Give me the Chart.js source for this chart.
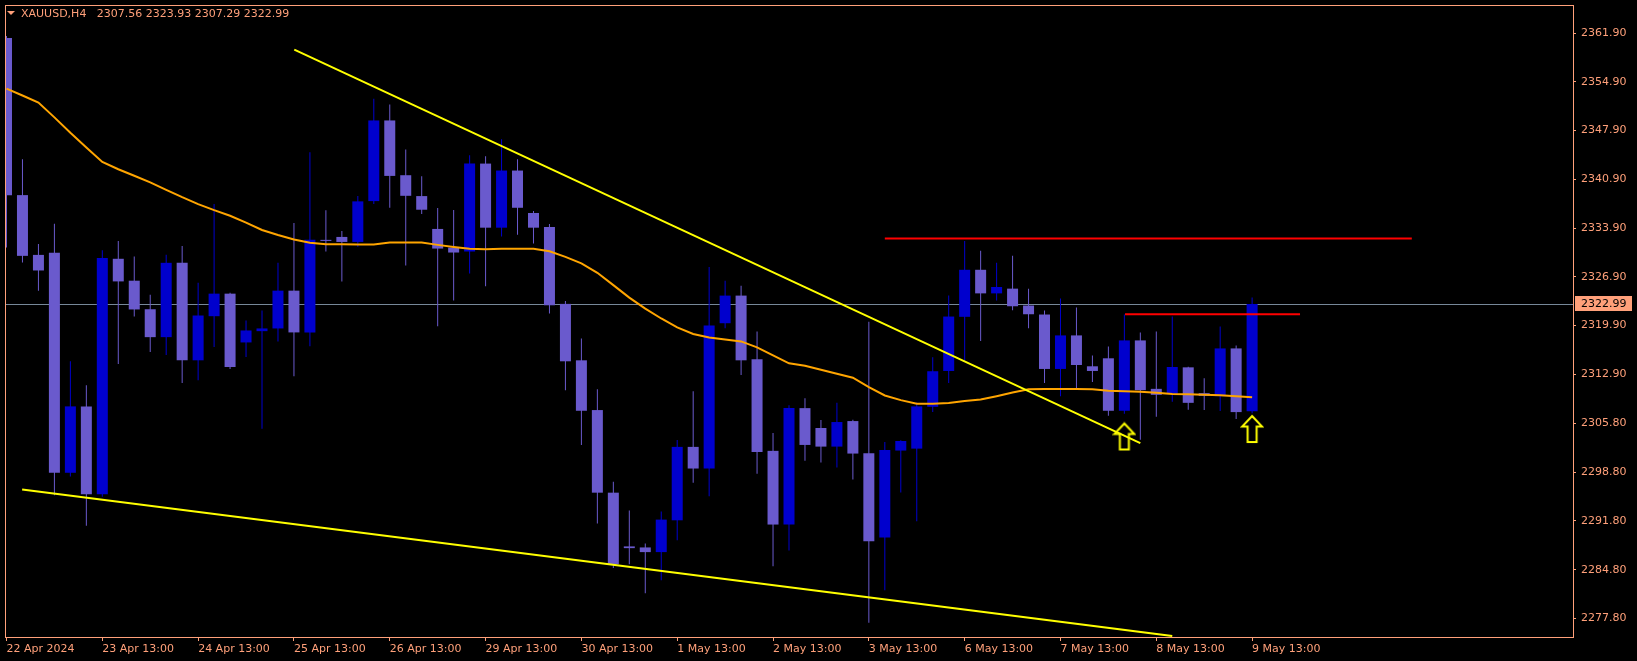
<!DOCTYPE html>
<html>
<head>
<meta charset="utf-8">
<title>XAUUSD H4</title>
<script src="https://cdn.jsdelivr.net/npm/chart.js@4.4.1/dist/chart.umd.min.js"></script>
<style>
  html, body { margin: 0; padding: 0; background: #000; }
  #wrap { position: relative; width: 1637px; height: 661px; overflow: hidden; }
  #chart { display: block; }
  #tri {
    position: absolute; left: 7px; top: 11px; width: 0; height: 0;
    border-left: 4px solid transparent; border-right: 4px solid transparent;
    border-top: 4px solid #FFA07A;
  }
  #title {
    position: absolute; left: 21px; top: 7px; line-height: 13px;
    font-family: "DejaVu Sans", sans-serif; font-size: 11px;
    color: #FFA07A; white-space: pre;
  }
</style>
</head>
<body>
<div id="wrap">
  <canvas id="chart" width="1637" height="661"></canvas>
  <div id="tri"></div>
  <div id="title">XAUUSD,H4   2307.56 2323.93 2307.29 2322.99</div>
</div>
<script>
// candles (H4)
var candleOpen = [2361.2, 2338.63, 2330.04, 2330.33, 2298.73, 2308.27, 2295.63, 2329.48, 2326.33, 2322.23,
  2318.22, 2328.9, 2314.89, 2321.23, 2324.47, 2317.46, 2319.08, 2319.47, 2324.9, 2318.9,
  2332.2, 2332.62, 2331.9, 2337.77, 2349.36, 2341.49, 2338.49, 2333.77, 2331.09, 2330.52,
  2343.16, 2333.95, 2342.16, 2336.06, 2334.05, 2323.0, 2314.89, 2307.74, 2295.87, 2288.15,
  2288.0, 2287.33, 2291.9, 2302.45, 2299.34, 2320.22, 2324.19, 2315.03, 2301.88, 2291.29,
  2308.02, 2305.16, 2302.49, 2306.16, 2301.55, 2289.43, 2301.92, 2302.2, 2308.21, 2313.36,
  2321.14, 2327.9, 2324.51, 2325.19, 2322.76, 2321.47, 2313.65, 2318.47, 2314.03, 2315.18,
  2307.64, 2317.75, 2310.79, 2310.07, 2313.88, 2310.17, 2309.74, 2316.6, 2307.56];
var candleHigh = [2361.5, 2343.8, 2331.6, 2334.5, 2314.75, 2311.3, 2330.7, 2332.05, 2329.8, 2324.3,
  2330.05, 2331.3, 2326.04, 2337.34, 2324.6, 2320.6, 2322.04, 2328.9, 2334.63, 2344.78,
  2336.44, 2333.48, 2338.5, 2352.46, 2351.65, 2345.2, 2341.35, 2336.77, 2336.49, 2344.35,
  2344.2, 2346.64, 2343.78, 2336.34, 2334.48, 2323.43, 2318.04, 2310.74, 2297.44, 2293.3,
  2288.57, 2293.15, 2303.45, 2310.46, 2328.3, 2326.33, 2325.62, 2319.04, 2304.45, 2308.45,
  2309.45, 2306.3, 2308.79, 2306.35, 2320.42, 2303.16, 2303.4, 2308.84, 2315.32, 2324.19,
  2332.05, 2330.62, 2328.9, 2329.9, 2325.19, 2322.04, 2323.76, 2322.47, 2315.6, 2316.89,
  2321.47, 2318.9, 2319.04, 2321.18, 2313.95, 2312.3, 2319.75, 2317.03, 2323.93];
var candleLow = [2331.1, 2328.95, 2324.9, 2295.5, 2298.2, 2291.1, 2295.3, 2314.36, 2321.2, 2316.08,
  2315.65, 2311.64, 2312.03, 2316.79, 2313.65, 2315.36, 2305.06, 2317.6, 2312.6, 2316.9,
  2330.52, 2326.23, 2331.2, 2337.34, 2336.81, 2328.52, 2335.91, 2319.8, 2323.5, 2327.38,
  2325.52, 2332.67, 2332.95, 2331.67, 2321.61, 2310.6, 2302.73, 2291.43, 2285.04, 2285.57,
  2281.43, 2283.28, 2289.04, 2297.3, 2295.34, 2319.51, 2312.79, 2298.59, 2285.29, 2287.57,
  2300.45, 2300.2, 2299.49, 2297.77, 2277.17, 2281.85, 2295.91, 2291.76, 2307.45, 2311.64,
  2314.7, 2317.65, 2323.47, 2322.08, 2319.51, 2311.64, 2309.74, 2310.88, 2311.79, 2306.92,
  2307.21, 2303.49, 2306.78, 2308.93, 2307.78, 2307.74, 2307.6, 2306.45, 2307.29];
var candleClose = [2338.6, 2329.9, 2327.8, 2298.73, 2308.27, 2295.63, 2329.6, 2326.23, 2322.2, 2318.22,
  2328.9, 2314.89, 2321.33, 2324.47, 2313.93, 2319.18, 2319.47, 2324.9, 2318.9, 2332.2,
  2332.05, 2331.9, 2337.73, 2349.36, 2341.39, 2338.53, 2336.53, 2330.95, 2330.38, 2343.16,
  2333.95, 2342.16, 2336.81, 2333.95, 2322.8, 2314.75, 2307.64, 2295.87, 2285.57, 2287.9,
  2287.33, 2292.0, 2302.45, 2299.34, 2319.9, 2324.19, 2314.89, 2301.73, 2291.29, 2308.02,
  2302.73, 2302.49, 2306.02, 2301.49, 2288.9, 2302.02, 2303.3, 2308.27, 2313.32, 2321.18,
  2327.9, 2324.51, 2325.43, 2322.66, 2321.51, 2313.65, 2318.47, 2314.22, 2313.36, 2307.64,
  2317.75, 2310.6, 2309.93, 2313.93, 2308.78, 2309.78, 2316.6, 2307.45, 2322.99];

// moving average, one value per candle
var maValues = [2353.93, 2352.95, 2351.93, 2349.80, 2347.58, 2345.48, 2343.39, 2342.35, 2341.42, 2340.46,
  2339.39, 2338.33, 2337.34, 2336.47, 2335.66, 2334.68, 2333.62, 2332.90, 2332.25, 2331.78,
  2331.57, 2331.56, 2331.54, 2331.54, 2331.81, 2331.81, 2331.81, 2331.48, 2331.19, 2330.91,
  2330.86, 2330.91, 2330.91, 2330.91, 2330.55, 2329.76, 2328.83, 2327.47, 2325.69, 2323.90,
  2322.33, 2320.90, 2319.61, 2318.68, 2318.18, 2317.89, 2317.61, 2316.75, 2315.60, 2314.46,
  2314.10, 2313.53, 2312.96, 2312.39, 2311.03, 2309.84, 2309.17, 2308.64, 2308.64, 2308.74,
  2309.03, 2309.25, 2309.74, 2310.27, 2310.74, 2310.78, 2310.78, 2310.78, 2310.74, 2310.53,
  2310.43, 2310.37, 2310.24, 2310.05, 2310.00, 2309.93, 2309.88, 2309.74, 2309.60];

// x axis: tick at every 6th candle
var xTickIndex = [0, 6, 12, 18, 24, 30, 36, 42, 48, 54, 60, 66, 72, 78];
var xTickLabels = ['22 Apr 2024', '23 Apr 13:00', '24 Apr 13:00', '25 Apr 13:00', '26 Apr 13:00',
  '29 Apr 13:00', '30 Apr 13:00', '1 May 13:00', '2 May 13:00', '3 May 13:00',
  '6 May 13:00', '7 May 13:00', '8 May 13:00', '9 May 13:00'];
var yTickValues = [2361.90, 2354.90, 2347.90, 2340.90, 2333.90, 2326.90, 2319.90,
  2312.90, 2305.80, 2298.80, 2291.80, 2284.80, 2277.80];

// drawn objects: [candle index, price]
var upperTrend = [[18.02, 2359.55], [71.0, 2302.98]];
var lowerTrend = [[0.98, 2296.34], [73.0, 2275.27]];
var resistTop = [[55.0, 2332.38], [88.0, 2332.38]];
var resistLow = [[70.04, 2321.5], [81.0, 2321.5]];
var arrowIndex = [70, 78];
var arrowPrice = [2303.95, 2305.02];
var bidPrice = 2322.99;

var fg = '#FFA07A';
var bull = '#0000CD';
var bear = '#6A5ACD';

function candleColor(ctx) {
  var i = ctx.dataIndex;
  return candleClose[i] >= candleOpen[i] ? bull : bear;
}
function toPoints(pairs) {
  return pairs.map(function (p) { return { x: p[0], y: p[1] }; });
}

// up arrow used as point image
var arrowImg = document.createElement('canvas');
arrowImg.width = 24; arrowImg.height = 30;
(function () {
  var c = arrowImg.getContext('2d');
  c.beginPath();
  c.moveTo(12, 2); c.lineTo(22, 12.5); c.lineTo(16.5, 12.5); c.lineTo(16.5, 28);
  c.lineTo(7.5, 28); c.lineTo(7.5, 12.5); c.lineTo(2, 12.5); c.closePath();
  c.lineJoin = 'miter';
  c.strokeStyle = '#FFFF00';
  c.lineWidth = 2;
  c.stroke();
})();

// frame, bid line and the bid price label
var framePlugin = {
  id: 'frame',
  beforeDatasetsDraw: function (chart) {
    var a = chart.chartArea, c = chart.ctx;
    var y = Math.round(chart.scales.y.getPixelForValue(bidPrice)) + 0.5;
    c.save();
    c.strokeStyle = '#778899';
    c.lineWidth = 1;
    c.beginPath(); c.moveTo(a.left, y); c.lineTo(a.right, y); c.stroke();
    c.restore();
  },
  afterDraw: function (chart) {
    var a = chart.chartArea, c = chart.ctx;
    c.save();
    c.strokeStyle = fg;
    c.lineWidth = 1;
    c.strokeRect(Math.round(a.left) + 0.5, Math.round(a.top) + 0.5,
      Math.round(a.right - a.left), Math.round(a.bottom - a.top));
    var y = chart.scales.y.getPixelForValue(bidPrice);
    c.fillStyle = fg;
    c.fillRect(a.right + 2, Math.round(y) - 8, 57, 15);
    c.fillStyle = '#000';
    c.font = '11px "DejaVu Sans"';
    c.textBaseline = 'middle';
    c.fillText(bidPrice.toFixed(2), a.right + 8, Math.round(y));
    c.restore();
  }
};

var ctx = document.getElementById('chart').getContext('2d');
var chart = new Chart(ctx, {
  type: 'bar',
  data: {
    datasets: [
      {
        label: 'wicks',
        data: candleLow.map(function (l, i) { return { x: i, y: [l, candleHigh[i]] }; }),
        backgroundColor: candleColor,
        barThickness: 1,
        inflateAmount: 0,
        grouped: false,
        order: 20
      },
      {
        label: 'bodies',
        data: candleOpen.map(function (o, i) { return { x: i, y: [o, candleClose[i]] }; }),
        backgroundColor: candleColor,
        barThickness: 11,
        minBarLength: 1,
        inflateAmount: 0,
        grouped: false,
        order: 10
      },
      {
        type: 'line',
        label: 'MA',
        data: maValues.map(function (v, i) { return { x: i, y: v }; }),
        borderColor: '#FFA500',
        borderWidth: 2,
        pointRadius: 0,
        tension: 0,
        order: 5
      },
      {
        type: 'line', label: 'upper trend', data: toPoints(upperTrend),
        borderColor: '#FFFF00', borderWidth: 2, pointRadius: 0, order: 2
      },
      {
        type: 'line', label: 'lower trend', data: toPoints(lowerTrend),
        borderColor: '#FFFF00', borderWidth: 2, pointRadius: 0, order: 2
      },
      {
        type: 'line', label: 'resistance', data: toPoints(resistTop),
        borderColor: '#FF0000', borderWidth: 2, pointRadius: 0, order: 2
      },
      {
        type: 'line', label: 'resistance 2', data: toPoints(resistLow),
        borderColor: '#FF0000', borderWidth: 2, pointRadius: 0, order: 2
      },
      {
        type: 'scatter', label: 'arrows',
        data: arrowIndex.map(function (x, i) { return { x: x, y: arrowPrice[i] }; }),
        pointStyle: arrowImg,
        order: 1
      }
    ]
  },
  options: {
    responsive: false,
    devicePixelRatio: 1,
    animation: false,
    events: [],
    layout: { padding: { left: 2, top: 2, right: 0, bottom: 0 } },
    plugins: { legend: { display: false }, tooltip: { enabled: false } },
    scales: {
      x: {
        type: 'linear',
        min: -0.09375,
        max: 98.09375,
        offset: false,
        grid: { display: true, offset: false, drawOnChartArea: false, drawTicks: true, tickLength: 4, color: fg },
        border: { display: false },
        afterBuildTicks: function (scale) {
          scale.ticks = xTickIndex.map(function (v) { return { value: v }; });
        },
        afterFit: function (scale) {
          scale.height = 24;
          scale.paddingLeft = 0;
          scale.paddingRight = 0;
        },
        ticks: {
          autoSkip: false,
          maxRotation: 0,
          align: 'start',
          padding: 2,
          color: fg,
          font: { family: 'DejaVu Sans', size: 11 },
          callback: function (v) {
            var k = xTickIndex.indexOf(v);
            return k >= 0 ? xTickLabels[k] : '';
          }
        }
      },
      y: {
        position: 'right',
        min: 2275.13,
        max: 2365.95,
        beginAtZero: false,
        grid: { display: true, drawOnChartArea: false, drawTicks: true, tickLength: 3, color: fg },
        border: { display: false },
        afterBuildTicks: function (scale) {
          scale.ticks = yTickValues.map(function (v) { return { value: v }; });
        },
        afterFit: function (scale) {
          scale.width = 64;
          scale.paddingTop = 0;
          scale.paddingBottom = 0;
        },
        ticks: {
          padding: 5,
          color: fg,
          font: { family: 'DejaVu Sans', size: 11 },
          callback: function (v) { return Number(v).toFixed(2); }
        }
      }
    }
  },
  plugins: [framePlugin]
});
</script>
</body>
</html>
